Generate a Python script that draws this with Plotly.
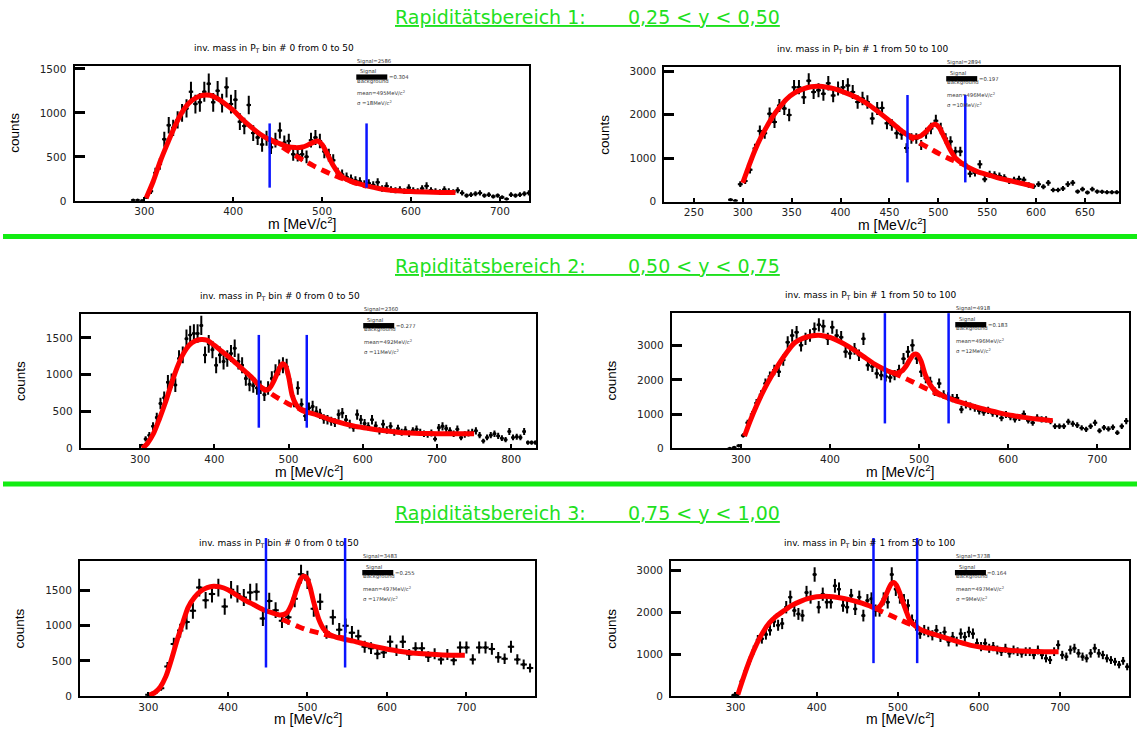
import numpy as np
import plotly.graph_objects as go

# ---------------------------------------------------------------------------
# Invariant-mass spectra (counts per bin) in three rapidity ranges and two
# P_T bins each, with the fitted total curve, the background under the peak,
# the integration window and the fit results.
# ---------------------------------------------------------------------------

# rapidity range 1: 0,25 < y < 0,50 ------------------------------------------
P1_FIRST_BIN, P1_BIN_WIDTH = 287.5, 5.0
P1_COUNTS = [8, 6, 2, 40, 110, 320, 420, 700, 860, 830,
             920, 1000, 1050, 1240, 1100, 1120, 1240, 1330, 1120, 1250,
             1110, 1290, 1100, 1150, 900, 850, 1090, 770, 720, 640,
             710, 610, 690, 800, 660, 680, 530, 520, 530, 500,
             690, 720, 680, 560, 520, 460, 320, 300, 270, 250,
             230, 220, 190, 200, 180, 210, 140, 170, 130, 120,
             130, 110, 150, 120, 110, 140, 170, 120, 110, 100,
             130, 110, 100, 120, 90, 60, 70, 80, 90, 60,
             70, 50, 60, 40, 20, 70, 60, 70, 80, 90]
P1_FIT_M = [302, 310, 318, 326, 334, 342, 350, 358, 366, 374, 382, 390, 400, 410, 420,
            430, 440, 450, 460, 470, 478, 484, 490, 495, 500, 506, 512, 518, 524, 530,
            540, 550, 565, 580, 600, 625, 650]
P1_FIT_C = [30, 220, 450, 650, 840, 1000, 1110, 1170, 1200, 1200, 1165, 1110, 1030, 930, 840,
            760, 700, 660, 620, 605, 612, 635, 665, 680, 640, 530, 410, 320, 262, 232,
            198, 170, 138, 118, 105, 98, 95]
P1_BG_M = [441, 450, 460, 470, 480, 490, 500, 510, 520, 530, 540, 550]
P1_BG_C = [700, 645, 580, 515, 455, 400, 350, 305, 265, 230, 195, 168]
P1_WINDOW = [441, 550]
P1_WINDOW_SPAN = [150, 880]
P1_STATS = ["2586", "0.304", "495", "18"]

P2_FIRST_BIN, P2_BIN_WIDTH = 287.5, 5.0
P2_COUNTS = [40, 20, 400, 470, 730, 1220, 1620, 1570, 2020, 1830,
             2210, 2140, 1990, 2630, 2630, 2400, 2780, 2520, 2560, 2480,
             2720, 2440, 2600, 2630, 2670, 2520, 2290, 2370, 2290, 1910,
             2140, 2150, 1800, 1760, 1570, 1550, 1230, 1450, 1450, 1300,
             1570, 1680, 1860, 1680, 1450, 1380, 1150, 1150, 850, 640,
             660, 855, 515, 630, 615, 590, 550, 470, 500, 520,
             500, 380, 350, 400, 340, 430, 265, 265, 300, 400,
             430, 230, 285, 210, 285, 230, 225, 215, 215, 215]
P2_FIT_M = [300, 306, 312, 318, 324, 330, 337, 345, 353, 362, 370, 378, 386, 394, 402,
            410, 420, 430, 440, 450, 460, 468, 475, 482, 488, 493, 497, 501, 506, 512,
            518, 524, 532, 540, 550, 562, 575, 587, 598]
P2_FIT_C = [430, 800, 1150, 1450, 1700, 1930, 2150, 2360, 2500, 2590, 2640, 2650, 2630, 2590, 2530,
            2460, 2350, 2210, 2040, 1860, 1670, 1540, 1480, 1510, 1620, 1740, 1780, 1700, 1480, 1200,
            990, 880, 770, 690, 620, 540, 470, 410, 345]
P2_BG_M = [468, 476, 484, 492, 500, 508, 516, 524, 528]
P2_BG_C = [1540, 1420, 1310, 1210, 1110, 1020, 940, 870, 840]
P2_WINDOW = [468.5, 527.6]
P2_WINDOW_SPAN = [440, 2450]
P2_STATS = ["2894", "0.197", "496", "10"]

# rapidity range 2: 0,50 < y < 0,75 ------------------------------------------
P3_FIRST_BIN, P3_BIN_WIDTH = 302.5, 5.0
P3_COUNTS = [40, 130, 180, 300, 420, 610, 690, 900, 920, 860,
             1220, 1270, 1490, 1540, 1560, 1560, 1670, 1270, 1420, 1340,
             1130, 1270, 1180, 1220, 1290, 1360, 1180, 1130, 950, 870,
             850, 820, 830, 730, 820, 950, 1040, 1100, 1130, 1110,
             860, 640, 820, 600, 440, 550, 570, 500, 470, 400,
             390, 370, 350, 460, 480, 390, 330, 280, 460, 390,
             340, 300, 390, 310, 240, 330, 250, 300, 220, 270,
             220, 250, 200, 240, 260, 220, 200, 190, 210, 130,
             280, 300, 270, 240, 200, 260, 150, 190, 210, 220,
             240, 180, 100, 150, 180, 200, 170, 140, 120, 230,
             150, 160, 150, 230, 80, 80, 80]
P3_FIT_M = [303, 310, 318, 326, 334, 342, 350, 358, 366, 374, 382, 390, 400, 410, 420,
            430, 440, 450, 458, 464, 469, 474, 479, 484, 488, 492, 496, 500, 505, 510,
            516, 522, 530, 540, 555, 570, 590, 610, 630, 650, 670, 690, 710, 730, 750]
P3_FIT_C = [0, 70, 200, 400, 620, 870, 1100, 1280, 1400, 1460, 1480, 1470, 1400, 1320, 1240,
            1150, 1060, 970, 880, 820, 790, 810, 890, 1000, 1090, 1150, 1120, 980, 720, 600,
            530, 500, 480, 450, 395, 350, 300, 268, 240, 218, 208, 203, 200, 200, 200]
P3_BG_M = [460, 470, 480, 490, 500, 510, 520, 525]
P3_BG_C = [850, 790, 720, 660, 605, 560, 520, 505]
P3_WINDOW = [460, 524.6]
P3_WINDOW_SPAN = [282, 1541]
P3_STATS = ["2360", "0.277", "492", "11"]

P4_FIRST_BIN, P4_BIN_WIDTH = 287.5, 5.0
P4_COUNTS = [0, 30, 80, 380, 750, 990, 1330, 1570, 1900, 2100,
             2290, 2240, 2580, 3100, 3300, 3390, 3010, 3200, 3300, 3490,
             3610, 3570, 3200, 3540, 3300, 3250, 2820, 2770, 2910, 2720,
             3200, 2430, 2390, 2190, 2140, 2100, 2070, 2140, 2290, 2620,
             2820, 3010, 2630, 2240, 2050, 1950, 1660, 1900, 1570, 1520,
             1470, 1470, 1140, 1280, 1230, 1180, 1100, 1060, 1110, 1030,
             1010, 890, 990, 920, 850, 900, 1010, 820, 750, 900,
             850, 850, 800, 650, 650, 650, 780, 720, 680, 600,
             560, 650, 750, 520, 610, 570, 620, 460, 650, 800]
P4_FIT_M = [304, 310, 318, 326, 334, 342, 350, 360, 370, 380, 390, 400, 410, 420, 430,
            440, 450, 460, 468, 475, 481, 486, 490, 494, 498, 502, 507, 512, 518, 525,
            535, 545, 560, 575, 590, 605, 620, 635, 650]
P4_FIT_C = [360, 780, 1280, 1720, 2100, 2440, 2750, 3080, 3220, 3290, 3300, 3240, 3130, 2990, 2820,
            2640, 2460, 2320, 2230, 2200, 2270, 2430, 2610, 2740, 2740, 2560, 2150, 1880, 1680, 1560,
            1450, 1360, 1240, 1130, 1040, 960, 900, 850, 810]
P4_BG_M = [470, 480, 490, 500, 510, 520, 528]
P4_BG_C = [2220, 2100, 1980, 1850, 1720, 1600, 1520]
P4_WINDOW = [461.6, 533.1]
P4_WINDOW_SPAN = [731, 3950]
P4_STATS = ["4918", "0.183", "496", "12"]

# rapidity range 3: 0,75 < y < 1,00 ------------------------------------------
P5_FIRST_BIN, P5_BIN_WIDTH = 300.0, 8.0
P5_COUNTS = [20, 50, 110, 420, 740, 930, 1050, 1210, 1540, 1360,
             1450, 1540, 1270, 1510, 1450, 1400, 1470, 1480, 1100, 1350,
             1220, 1070, 1120, 1380, 1730, 1650, 1240, 1340, 910, 1120,
             940, 1000, 900, 850, 700, 680, 600, 620, 770, 650,
             770, 590, 680, 680, 560, 600, 520, 590, 510, 690,
             690, 520, 690, 690, 670, 550, 530, 700, 520, 450,
             400]
P5_FIT_M = [301, 308, 315, 322, 329, 336, 343, 350, 358, 366, 374, 382, 390, 400, 410,
            420, 432, 444, 456, 466, 474, 480, 486, 491, 495, 499, 503, 508, 514, 520,
            527, 535, 545, 558, 575, 595, 620, 645, 670, 698]
P5_FIT_C = [15, 50, 130, 280, 520, 790, 1030, 1260, 1400, 1490, 1540, 1560, 1550, 1510, 1440,
            1370, 1300, 1230, 1180, 1150, 1180, 1300, 1500, 1650, 1700, 1680, 1560, 1330, 1100, 960,
            880, 840, 810, 780, 730, 680, 630, 600, 585, 580]
P5_BG_M = [468, 478, 488, 498, 508, 518, 528, 538, 548]
P5_BG_C = [1090, 1040, 990, 945, 915, 885, 860, 840, 820]
P5_WINDOW = [447.9, 547.4]
P5_WINDOW_SPAN = [406, 2243]
P5_STATS = ["3483", "0.255", "497", "17"]

P6_FIRST_BIN, P6_BIN_WIDTH = 297.5, 5.0
P6_COUNTS = [20, 40, 350, 600, 850, 1100, 1340, 1370, 1470, 1570,
             1780, 1690, 1730, 2120, 2360, 2040, 1960, 1920, 2470, 2360,
             2900, 2120, 2430, 2240, 2240, 2630, 2550, 2160, 2120, 2400,
             2080, 2360, 1920, 2280, 2320, 2040, 2040, 2320, 2240, 2900,
             2550, 2360, 2280, 2160, 1810, 1690, 1490, 1570, 1530, 1450,
             1570, 1410, 1530, 1300, 1410, 1300, 1490, 1410, 1530, 1490,
             1260, 1180, 1260, 1140, 1180, 1100, 1060, 1140, 1020, 1100,
             1060, 1020, 1060, 1060, 980, 1100, 980, 900, 860, 1060,
             1220, 980, 940, 1100, 1140, 1020, 940, 900, 1020, 1140,
             1020, 980, 900, 860, 820, 750, 840, 700]
P6_FIT_M = [303, 310, 318, 326, 334, 342, 350, 360, 370, 380, 390, 400, 410, 420, 430,
            440, 450, 460, 468, 474, 479, 484, 488, 492, 495, 498, 502, 506, 510, 515,
            520, 526, 535, 545, 560, 575, 590, 605, 620, 640, 660, 680, 698]
P6_FIT_C = [40, 450, 880, 1240, 1530, 1750, 1900, 2040, 2170, 2260, 2330, 2370, 2380, 2370, 2340,
            2300, 2250, 2190, 2130, 2090, 2170, 2350, 2530, 2680, 2710, 2650, 2480, 2250, 2040, 1800,
            1700, 1610, 1530, 1470, 1380, 1290, 1210, 1160, 1130, 1090, 1070, 1060, 1060]
P6_BG_M = [472, 480, 488, 496, 504, 512, 520, 524]
P6_BG_C = [2100, 2020, 1950, 1880, 1810, 1740, 1680, 1650]
P6_WINDOW = [470, 523.8]
P6_WINDOW_SPAN = [786, 3770]
P6_STATS = ["3738", "0.164", "497", "9"]

# axis ticks ----------------------------------------------------------------
TICKS_M_100 = [300, 400, 500, 600, 700]
TICKS_M_100_WIDE = [300, 400, 500, 600, 700, 800]
TICKS_M_50 = [250, 300, 350, 400, 450, 500, 550, 600, 650]
TICKS_C_500 = [0, 500, 1000, 1500]
TICKS_C_1000 = [0, 1000, 2000, 3000]

HEADERS = [("1", "0,25", "0,50"), ("2", "0,50", "0,75"), ("3", "0,75", "1,00")]
TITLE_BIN0 = "inv. mass in P<sub>T</sub> bin # 0 from 0 to 50"
TITLE_BIN1 = "inv. mass in P<sub>T</sub> bin # 1 from 50 to 100"

# ---------------------------------------------------------------------------
W, H = 1137, 735
FONT = "DejaVu Sans"
FONT_AXIS = "Liberation Sans"
GREEN_TEXT = "#1ee01e"
GREEN_LINE = "#12ec12"
ERR_K = 3.2


def px(x):
    return x / W


def py(y):
    return 1 - y / H


panels = [
    dict(first=P1_FIRST_BIN, width=P1_BIN_WIDTH, counts=P1_COUNTS, fit=(P1_FIT_M, P1_FIT_C),
         bg=(P1_BG_M, P1_BG_C), window=P1_WINDOW, span=P1_WINDOW_SPAN, stats=P1_STATS,
         title=TITLE_BIN0, xticks=TICKS_M_100, yticks=TICKS_C_500,
         frame=(74.5, 529.0, 63.3, 200.3), xr=(221.5, 732.7), yr=(0, 1538)),
    dict(first=P2_FIRST_BIN, width=P2_BIN_WIDTH, counts=P2_COUNTS, fit=(P2_FIT_M, P2_FIT_C),
         bg=(P2_BG_M, P2_BG_C), window=P2_WINDOW, span=P2_WINDOW_SPAN, stats=P2_STATS,
         title=TITLE_BIN1, xticks=TICKS_M_50, yticks=TICKS_C_1000,
         frame=(664.3, 1119.0, 65.0, 201.0), xr=(219.8, 684.8), yr=(0, 3090)),
    dict(first=P3_FIRST_BIN, width=P3_BIN_WIDTH, counts=P3_COUNTS, fit=(P3_FIT_M, P3_FIT_C),
         bg=(P3_BG_M, P3_BG_C), window=P3_WINDOW, span=P3_WINDOW_SPAN, stats=P3_STATS,
         title=TITLE_BIN0, xticks=TICKS_M_100_WIDE, yticks=TICKS_C_500,
         frame=(80.7, 536.4, 315.0, 451.0), xr=(220.0, 834.0), yr=(0, 1823)),
    dict(first=P4_FIRST_BIN, width=P4_BIN_WIDTH, counts=P4_COUNTS, fit=(P4_FIT_M, P4_FIT_C),
         bg=(P4_BG_M, P4_BG_C), window=P4_WINDOW, span=P4_WINDOW_SPAN, stats=P4_STATS,
         title=TITLE_BIN1, xticks=TICKS_M_100, yticks=TICKS_C_1000,
         frame=(671.8, 1129.0, 314.0, 451.0), xr=(222.4, 735.6), yr=(0, 3950)),
    dict(first=P5_FIRST_BIN, width=P5_BIN_WIDTH, counts=P5_COUNTS, fit=(P5_FIT_M, P5_FIT_C),
         bg=(P5_BG_M, P5_BG_C), window=P5_WINDOW, span=P5_WINDOW_SPAN, stats=P5_STATS,
         title=TITLE_BIN0, xticks=TICKS_M_100, yticks=TICKS_C_500,
         frame=(80.0, 535.3, 565.0, 701.7), xr=(214.0, 786.6), yr=(0, 1916)),
    dict(first=P6_FIRST_BIN, width=P6_BIN_WIDTH, counts=P6_COUNTS, fit=(P6_FIT_M, P6_FIT_C),
         bg=(P6_BG_M, P6_BG_C), window=P6_WINDOW, span=P6_WINDOW_SPAN, stats=P6_STATS,
         title=TITLE_BIN1, xticks=TICKS_M_100, yticks=TICKS_C_1000,
         frame=(671.1, 1128.9, 565.0, 701.7), xr=(220.7, 784.6), yr=(0, 3220)),
]

fig = go.Figure()
shapes, annotations, axes = [], [], {}

small = dict(family=FONT, size=5.3, color="#333333")


def note(x, y, text, font, xanchor="left", yanchor="middle", **kw):
    annotations.append(dict(x=x, y=y, xref="paper", yref="paper", text=text, showarrow=False,
                            xanchor=xanchor, yanchor=yanchor, font=font, borderpad=0, **kw))


for i, p in enumerate(panels, start=1):
    L, R, T, B = p["frame"]
    suffix = "" if i == 1 else str(i)
    xa, ya = "x" + suffix, "y" + suffix
    counts = np.asarray(p["counts"], dtype=float)
    mass = p["first"] + p["width"] * np.arange(len(counts))
    err = ERR_K * np.sqrt(np.clip(counts, 0, None))

    fig.add_trace(go.Scatter(
        x=mass, y=counts, mode="markers", xaxis=xa, yaxis=ya, showlegend=False,
        marker=dict(color="black", size=3.5),
        error_x=dict(type="constant", value=p["width"] / 2, thickness=2, width=0, color="black"),
        error_y=dict(type="data", array=err, thickness=2, width=0, color="black"),
        hoverinfo="skip"))
    fig.add_trace(go.Scatter(
        x=p["fit"][0], y=p["fit"][1], mode="lines", xaxis=xa, yaxis=ya, showlegend=False,
        line=dict(color="#ff0000", width=5, shape="spline", smoothing=0.8), hoverinfo="skip"))
    fig.add_trace(go.Scatter(
        x=p["bg"][0], y=p["bg"][1], mode="lines", xaxis=xa, yaxis=ya, showlegend=False,
        line=dict(color="#ff0000", width=5, dash="9px,6px", shape="spline", smoothing=0.8),
        hoverinfo="skip"))

    ytop = p["yr"][1]
    for mw in p["window"]:
        shapes.append(dict(type="line", xref=xa, yref=f"{ya} domain", x0=mw, x1=mw,
                           y0=p["span"][0] / ytop, y1=p["span"][1] / ytop,
                           line=dict(color="#0a14ff", width=2.5), layer="above"))

    common = dict(showline=True, mirror=True, linewidth=2, linecolor="black",
                  showgrid=False, zeroline=False, ticks="inside", tickcolor="black",
                  tickfont=dict(family=FONT, size=10.5, color="#222222"))
    axes["xaxis" + suffix] = dict(
        common, domain=[px(L), px(R)], range=list(p["xr"]), anchor=ya,
        tickvals=p["xticks"], ticklen=4, tickwidth=2)
    axes["yaxis" + suffix] = dict(
        common, domain=[py(B), py(T)], range=list(p["yr"]), anchor=xa,
        tickvals=p["yticks"], ticklen=10, tickwidth=3, ticklabelstandoff=4)

    # titles
    note(px(L + 199), py(T - 17.5), p["title"], dict(family=FONT, size=9, color="black"),
         xanchor="center")
    note(px((L + R) / 2), py(B + 22.5), "m [MeV/c<sup>2</sup>]",
         dict(family=FONT_AXIS, size=14, color="black"), xanchor="center")
    note(px(L - 60), py((T + B) / 2), "counts", dict(family=FONT_AXIS, size=13.5, color="black"),
         xanchor="center", textangle=-90)

    # fit results
    sig, ratio, mean, sigma = p["stats"]
    S = L + 0.62 * (R - L)
    note(px(S), py(T - 4.5), f"Signal={sig}", small)
    shapes.append(dict(type="rect", xref="paper", yref="paper", x0=px(S), x1=px(S + 31),
                       y0=py(T + 14.4), y1=py(T + 9), fillcolor="black", line=dict(width=0)))
    note(px(S + 12), py(T + 6), "Signal", small, xanchor="center")
    note(px(S), py(T + 15.8), "Background", small)
    note(px(S + 31.5), py(T + 12), f"={ratio}", small)
    note(px(S), py(T + 28), f"mean={mean}MeV/c<sup>2</sup>", small)
    note(px(S), py(T + 38), f"\u03c3 ={sigma}MeV/c<sup>2</sup>", small)

# rapidity headers and separators
for (num, lo, hi), yc in zip(HEADERS, [13.8, 266.3, 516.0]):
    gap = "\u00a0" * 7
    note(px(394), py(yc), f"<u>Rapiditätsbereich {num}:{gap}{lo} &lt; y &lt; {hi}</u>",
         dict(family=FONT, size=19, color=GREEN_TEXT))
for yl in [236.3, 487.0]:
    shapes.append(dict(type="line", xref="paper", yref="paper", x0=px(3), x1=1,
                       y0=py(yl), y1=py(yl), line=dict(color=GREEN_LINE, width=5)))

fig.update_layout(width=W, height=H, margin=dict(l=0, r=0, t=0, b=0),
                  paper_bgcolor="white", plot_bgcolor="white", showlegend=False,
                  shapes=shapes, annotations=annotations, **axes)
fig.write_html("out.html")
